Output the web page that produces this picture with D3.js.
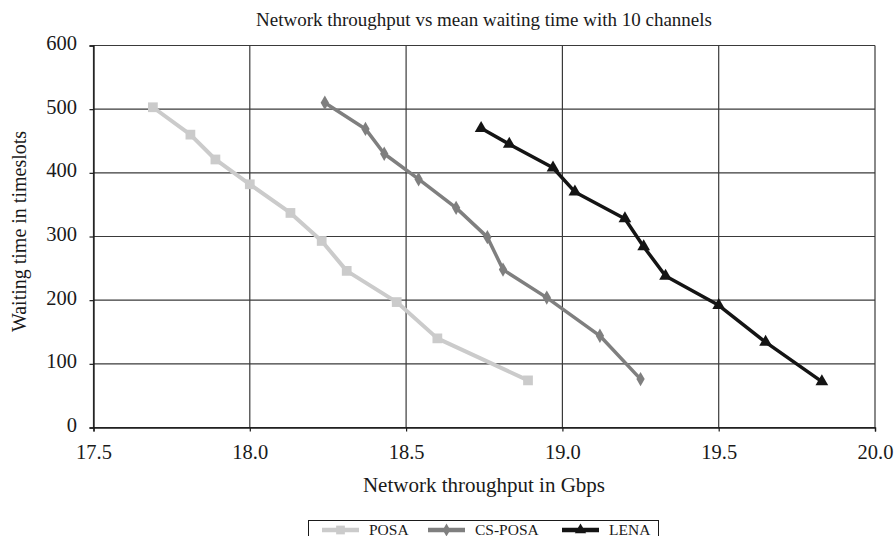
<!DOCTYPE html>
<html>
<head>
<meta charset="utf-8">
<script src="https://cdn.jsdelivr.net/npm/d3@7"></script>
<style>
  body { margin: 0; background: #fff; }
  text { font-family: "Liberation Serif", "Times New Roman", serif; fill: #1a1a1a; }
</style>
</head>
<body>
<svg id="chart" width="896" height="536"></svg>
<script>
// values
const posaX = [17.69, 17.81, 17.89, 18.00, 18.13, 18.23, 18.31, 18.47, 18.60, 18.89];
const posaY = [503, 460, 421, 382, 337, 293, 246, 197, 140, 74];
const csPosaX = [18.24, 18.37, 18.43, 18.54, 18.66, 18.76, 18.81, 18.95, 19.12, 19.25];
const csPosaY = [510, 469, 430, 390, 345, 299, 248, 204, 144, 76];
const lenaX = [18.74, 18.83, 18.97, 19.04, 19.20, 19.26, 19.33, 19.50, 19.65, 19.83];
const lenaY = [470, 445, 408, 370, 328, 284, 238, 192, 134, 72];
const xTicks = [17.5, 18.0, 18.5, 19.0, 19.5, 20.0];
const yTicks = [0, 100, 200, 300, 400, 500, 600];
const seriesNames = ["POSA", "CS-POSA", "LENA"];

const svg = d3.select("#chart");
const margin = { left: 93.5, right: 21, top: 45.5, bottom: 108.5 };
const W = 896, H = 536;
const serif = '"Liberation Serif", "Times New Roman", serif';

const x = d3.scaleLinear().domain([17.5, 20.0]).range([margin.left, W - margin.right]);
const y = d3.scaleLinear().domain([0, 600]).range([H - margin.bottom, margin.top]);

// grid
svg.append("g")
  .selectAll("line")
  .data(yTicks)
  .join("line")
  .attr("x1", x(17.5)).attr("x2", x(20.0))
  .attr("y1", d => y(d)).attr("y2", d => y(d))
  .attr("stroke", "#3a3a3a").attr("stroke-width", 1.2);
svg.append("g")
  .selectAll("line")
  .data(xTicks)
  .join("line")
  .attr("x1", d => x(d)).attr("x2", d => x(d))
  .attr("y1", y(0)).attr("y2", y(600))
  .attr("stroke", "#3a3a3a").attr("stroke-width", 1.2);

// axes
const xAxis = svg.append("g")
  .attr("transform", `translate(0,${y(0)})`)
  .call(d3.axisBottom(x).tickValues(xTicks).tickFormat(d3.format(".1f")).tickSize(4).tickPadding(12.5));
const yAxis = svg.append("g")
  .attr("transform", `translate(${x(17.5)},0)`)
  .call(d3.axisLeft(y).tickValues(yTicks).tickSize(4).tickPadding(12.5));
[xAxis, yAxis].forEach(a => {
  a.attr("font-family", serif).attr("font-size", 20.5);
  a.select(".domain").attr("stroke", "#1a1a1a").attr("stroke-width", 1.3);
  a.selectAll(".tick line").attr("stroke", "#1a1a1a").attr("stroke-width", 1.2);
  a.selectAll(".tick text").attr("fill", "#1a1a1a");
});
yAxis.selectAll(".tick text").attr("dy", "0.2em");

// titles
svg.append("text")
  .attr("x", 484).attr("y", 26)
  .attr("text-anchor", "middle").attr("font-size", 19)
  .text("Network throughput vs mean waiting time with 10 channels");
svg.append("text")
  .attr("x", 484).attr("y", 492)
  .attr("text-anchor", "middle").attr("font-size", 21)
  .text("Network throughput in Gbps");
svg.append("text")
  .attr("transform", "translate(25.5,231.5) rotate(-90)")
  .attr("text-anchor", "middle").attr("font-size", 20)
  .text("Waiting time in timeslots");

// series
const series = [
  { name: seriesNames[0], xs: posaX, ys: posaY, color: "#cbcbcb", width: 4, symbol: d3.symbolSquare, size: 95 },
  { name: seriesNames[1], xs: csPosaX, ys: csPosaY, color: "#7f7f7f", width: 3.5, symbol: d3.symbolDiamond, size: 60 },
  { name: seriesNames[2], xs: lenaX, ys: lenaY, color: "#141414", width: 3.5, symbol: d3.symbolTriangle, size: 70 }
];

const line = d3.line().x(d => x(d[0])).y(d => y(d[1]));

series.forEach(s => {
  const pts = s.xs.map((v, i) => [v, s.ys[i]]);
  svg.append("path")
    .datum(pts)
    .attr("d", line)
    .attr("fill", "none")
    .attr("stroke", s.color)
    .attr("stroke-width", s.width)
    .attr("stroke-linejoin", "round");
  svg.append("g")
    .selectAll("path")
    .data(pts)
    .join("path")
    .attr("transform", d => `translate(${x(d[0])},${y(d[1])})`)
    .attr("d", d3.symbol().type(s.symbol).size(s.size))
    .attr("fill", s.color);
});

// legend (box runs past the bottom edge, as in the reference)
const legend = svg.append("g");
legend.append("rect")
  .attr("x", 308.5).attr("y", 520.5)
  .attr("width", 350).attr("height", 30)
  .attr("fill", "#fff").attr("stroke", "#1a1a1a").attr("stroke-width", 1);
const legendX = [322, 428, 562];
series.forEach((s, i) => {
  const lx = legendX[i];
  const ly = 530;
  legend.append("line")
    .attr("x1", lx).attr("x2", lx + 37)
    .attr("y1", ly).attr("y2", ly)
    .attr("stroke", s.color).attr("stroke-width", 4.5);
  legend.append("path")
    .attr("transform", `translate(${lx + 18.5},${ly})`)
    .attr("d", d3.symbol().type(s.symbol).size(s.size * 0.8))
    .attr("fill", s.color);
  legend.append("text")
    .attr("x", lx + 47).attr("y", 534.5)
    .attr("font-size", 15.5)
    .text(s.name);
});
</script>
</body>
</html>
